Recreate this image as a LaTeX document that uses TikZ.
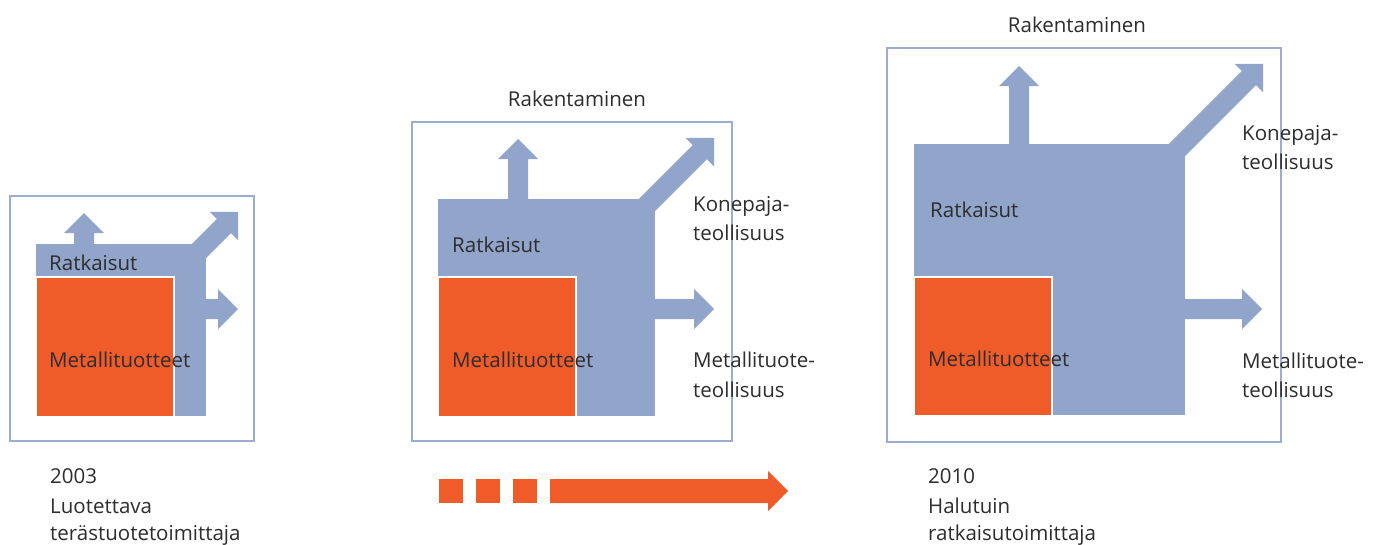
\documentclass[tikz,border=0pt]{standalone}
\usepackage{fontspec}
\setmainfont{Open Sans}
\definecolor{blk}{RGB}{145,164,201}
\definecolor{frm}{RGB}{156,172,210}
\definecolor{org}{RGB}{240,91,42}
\definecolor{txt}{RGB}{45,45,45}
\tikzset{
  frame/.style={draw=frm,line width=2.4pt},
  body/.style={fill=blk},
  metal/.style={fill=org,draw=white,line width=1.2pt},
  lbl/.style={inner sep=0pt,anchor=base west,text=txt,font=\fontsize{20.5}{24}\selectfont},
  ttl/.style={inner sep=0pt,anchor=base,text=txt,font=\fontsize{20.5}{24}\selectfont},
}
\newcommand\barrow[4]{\fill[blk,shift={(#1,#2)},rotate=#3] (0,-10) -- ({#4-20},-10) -- ({#4-20},-20) -- (#4,0) -- ({#4-20},20) -- ({#4-20},10) -- (0,10) -- cycle;}
\begin{document}
\begin{tikzpicture}[x=1pt,y=-1pt]
\clip (0,0) rectangle (1383,544);
\fill[white] (0,0) rectangle (1383,544);
% ---------- panel 1
\draw[frame] (10,196) rectangle (254,441);
\barrow{84}{250}{90}{37}
\barrow{199}{251}{45}{55.2}
\barrow{200}{309}{0}{38}
\fill[body] (36,244) rectangle (206,416);
\draw[metal] (36,277) rectangle (174,417);
\node[lbl] (r1) at (49,270) {Ratkaisut};
\node[lbl] (m1) at (49,367) {Metallituotteet};
\node[lbl] (y1) at (50,483) {2003};
\node[lbl] (d1a) at (50,513) {Luotettava};
\node[lbl] (d1b) at (50,540) {terästuotetoimittaja};
% ---------- panel 2
\draw[frame] (412,122) rectangle (732,441);
\barrow{518}{205}{90}{66}
\barrow{645}{207}{45}{97.6}
\barrow{650}{309}{0}{64}
\fill[body] (438,199) rectangle (655,416);
\draw[metal] (438,277) rectangle (576,417);
\node[ttl] (t2) at (577,106) {Rakentaminen};
\node[lbl] (r2) at (452,252) {Ratkaisut};
\node[lbl] (m2) at (452,367) {Metallituotteet};
\node[lbl] (k2a) at (693,211) {Konepaja-};
\node[lbl] (k2b) at (693,240) {teollisuus};
\node[lbl] (mt2a) at (693,367) {Metallituote-};
\node[lbl] (mt2b) at (693,397) {teollisuus};
% ---------- panel 3
\draw[frame] (887,48) rectangle (1281,442);
\barrow{1019}{150}{90}{84}
\barrow{1175}{152}{45}{124.5}
\barrow{1180}{309}{0}{82}
\fill[body] (914,144) rectangle (1185,415);
\draw[metal] (914,277) rectangle (1052,416);
\node[ttl] (t3) at (1077,32) {Rakentaminen};
\node[lbl] (r3) at (930,217) {Ratkaisut};
\node[lbl] (m3) at (928,366) {Metallituotteet};
\node[lbl] (k3a) at (1242,140) {Konepaja-};
\node[lbl] (k3b) at (1242,169) {teollisuus};
\node[lbl] (mt3a) at (1242,368) {Metallituote-};
\node[lbl] (mt3b) at (1242,397) {teollisuus};
\node[lbl] (y3) at (928,483) {2010};
\node[lbl] (d3a) at (928,513) {Halutuin};
\node[lbl] (d3b) at (928,540) {ratkaisutoimittaja};
% ---------- time arrow
\fill[org] (439,479) rectangle (463,503);
\fill[org] (476,479) rectangle (500,503);
\fill[org] (513,479) rectangle (537,503);
\fill[org] (550,479) -- (768,479) -- (768,471) -- (788,491) -- (768,511) -- (768,503) -- (550,503) -- cycle;
\end{tikzpicture}
\end{document}
